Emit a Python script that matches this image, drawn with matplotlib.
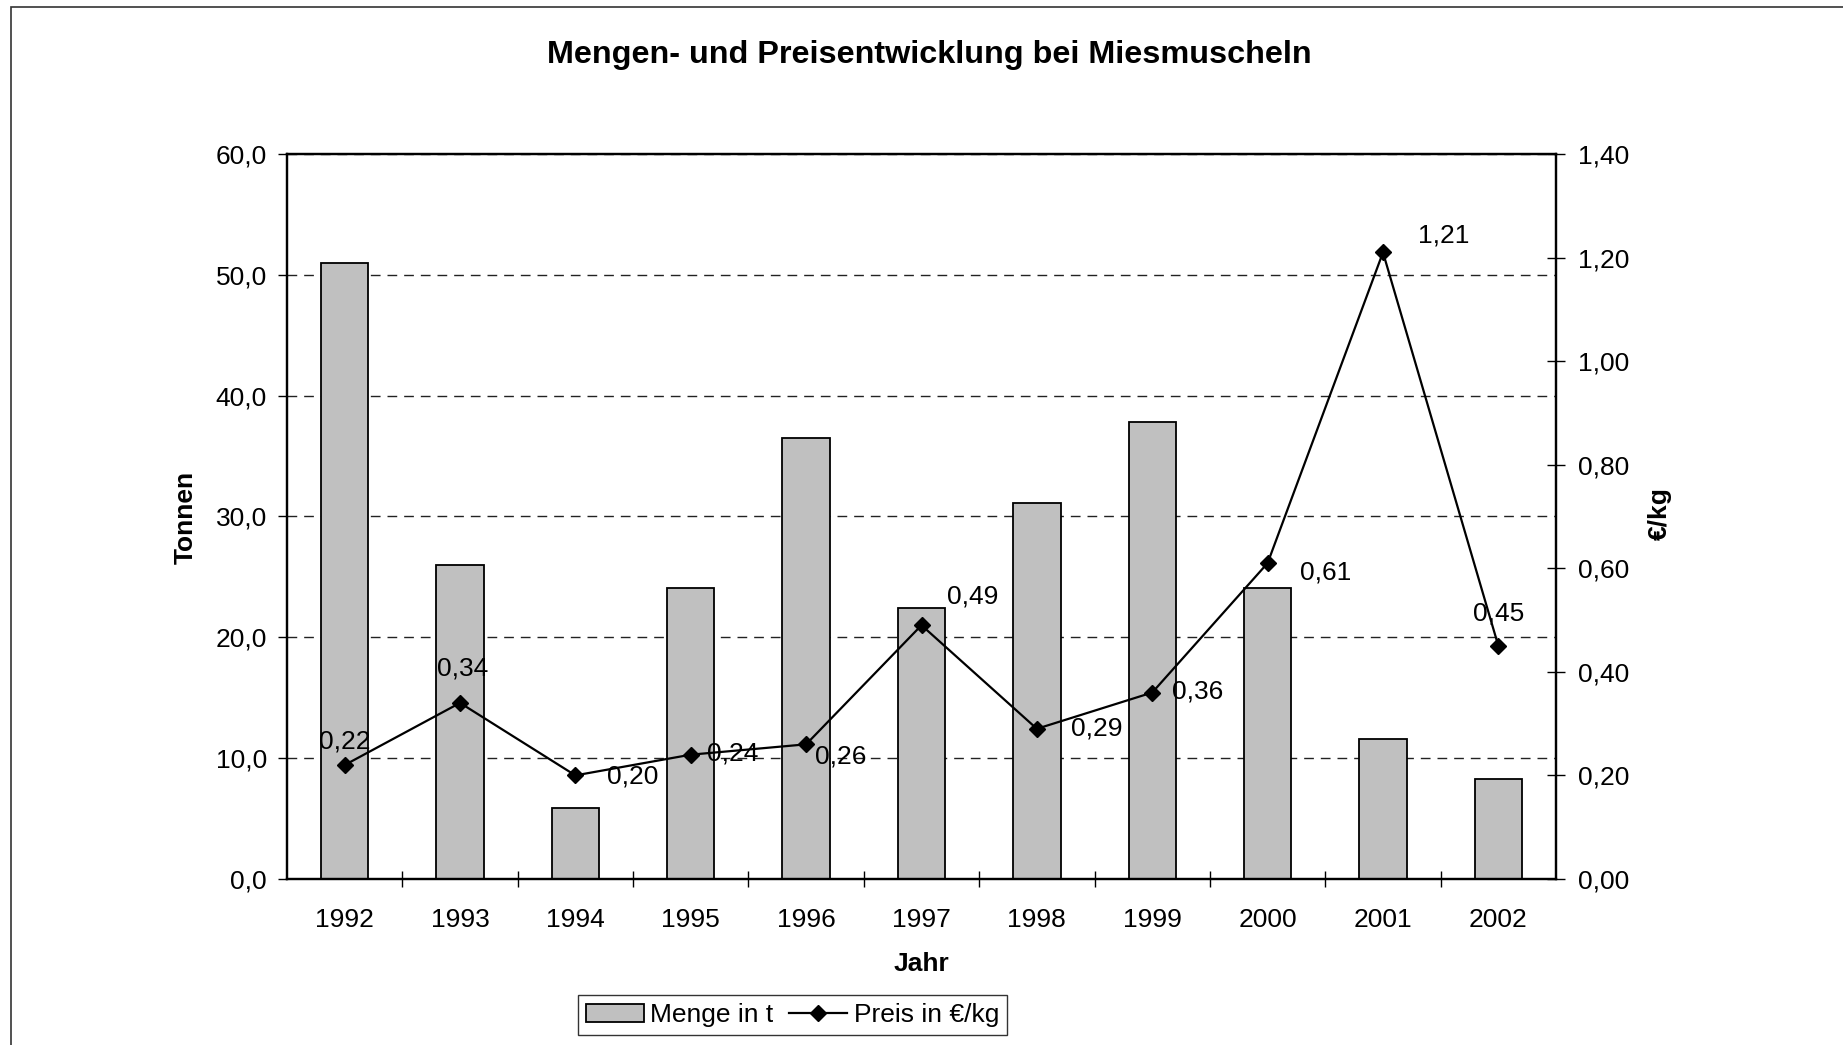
import matplotlib.pyplot as plt
from matplotlib.patches import Rectangle
from matplotlib.ticker import FuncFormatter, MultipleLocator

plt.rcParams['font.family'] = ['Liberation Sans', 'DejaVu Sans']

jahre = ['1992', '1993', '1994', '1995', '1996', '1997', '1998', '1999', '2000', '2001', '2002']
menge = [51.0, 26.0, 5.9, 24.1, 36.5, 22.4, 31.1, 37.8, 24.1, 11.6, 8.3]
preis = [0.22, 0.34, 0.20, 0.24, 0.26, 0.49, 0.29, 0.36, 0.61, 1.21, 0.45]
# label offsets (points) for the price labels
offs = [(0, 17), (2, 25), (41, -1), (30, 1), (25, -9), (37, 21),
        (43, 0), (33, 1), (42, -7), (44, 12), (0, 23)]

fs = 19
fig = plt.figure(figsize=(18.43, 10.45), dpi=100)
ax = fig.add_axes([0.1557, 0.1589, 0.6886, 0.6937])
x = list(range(len(jahre)))

ax.bar(x, menge, width=0.41, color='#C0C0C0', edgecolor='black', linewidth=1.3,
       label='Menge in t', zorder=2)
ax.set_xlim(-0.5, len(jahre) - 0.5)
ax.set_ylim(0, 60)
ax.yaxis.set_major_locator(MultipleLocator(10))
ax.yaxis.set_major_formatter(FuncFormatter(lambda v, p: f'{v:.1f}'.replace('.', ',')))
ax.set_axisbelow(True)
ax.yaxis.grid(True, color='#222222', linewidth=1, linestyle=(0, (7, 5)))

ax.set_xticks(x)
ax.set_xticklabels(jahre)
ax.set_xticks([i + 0.5 for i in x[:-1]], minor=True)
ax.tick_params(axis='x', which='major', length=0, pad=21, labelsize=fs)
ax.tick_params(axis='x', which='minor', direction='inout', length=11.5, width=1)
ax.tick_params(axis='y', direction='out', length=6.5, width=1, pad=8, labelsize=fs)
for s in ax.spines.values():
    s.set_linewidth(1.6)

ax2 = ax.twinx()
ax2.plot(x, preis, color='black', linewidth=1.6, marker='D', markersize=8,
         label='Preis in €/kg', zorder=3)
ax2.set_ylim(0, 1.4)
ax2.yaxis.set_major_locator(MultipleLocator(0.2))
ax2.yaxis.set_major_formatter(FuncFormatter(lambda v, p: f'{v:.2f}'.replace('.', ',')))
ax2.tick_params(axis='y', direction='inout', length=13, width=1, pad=9, labelsize=fs)
for s in ax2.spines.values():
    s.set_linewidth(1.6)

for xi, p, o in zip(x, preis, offs):
    ax2.annotate(f'{p:.2f}'.replace('.', ','), (xi, p), xytext=o,
                 textcoords='offset points', ha='center', va='center', fontsize=fs)

fig.text(0.504, 0.947, 'Mengen- und Preisentwicklung bei Miesmuscheln',
         ha='center', va='center', fontsize=23.3, fontweight='bold')
fig.text(186 / 1843, 1 - 517 / 1045, 'Tonnen', rotation=90, ha='center', va='center',
         fontsize=fs, fontweight='bold')
fig.text(921 / 1843, 1 - 964 / 1045, 'Jahr', ha='center', va='center',
         fontsize=fs, fontweight='bold')
fig.text(1660 / 1843, 1 - 514 / 1045, '€/kg', rotation=90, ha='center', va='center',
         fontsize=fs, fontweight='bold')

h1, l1 = ax.get_legend_handles_labels()
h2, l2 = ax2.get_legend_handles_labels()
leg = fig.legend(h1 + h2, l1 + l2, loc='center', bbox_to_anchor=(0.43, 1 - 1015 / 1045),
                 ncol=2, fontsize=fs, frameon=True, fancybox=False, edgecolor='black',
                 handlelength=2.2, handletextpad=0.25, columnspacing=0.6,
                 borderpad=0.3, borderaxespad=0)
leg.get_frame().set_linewidth(1)

fig.add_artist(Rectangle((11 / 1843, -0.05), 1.2, 1.05 - 7 / 1045, transform=fig.transFigure,
                         fill=False, edgecolor='#333333', linewidth=1.2))

fig.savefig('out.png', dpi=100)
